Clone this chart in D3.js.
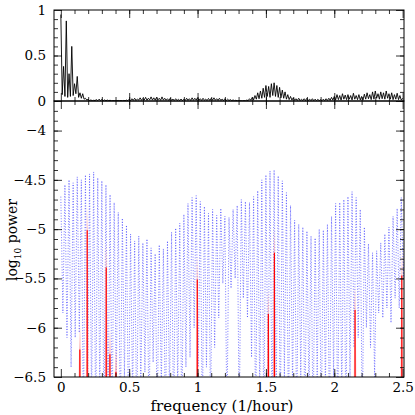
<!DOCTYPE html>
<html>
<head>
<meta charset="utf-8">
<script src="https://d3js.org/d3.v7.min.js"></script>
<style>
  html, body { margin: 0; padding: 0; background: #fff; }
  svg { display: block; font-family: "DejaVu Serif", serif; }
</style>
</head>
<body>
<div id="chart"></div>
<script>
/* ---- Data ---- */
// top panel: normalised window power, sampled every 0.01 /hour from 0 to 2.5
var windowStep = 0.01;
var windowPower = [
  0.95, 0.07, 0.38, 0.05, 0.88, 0.04, 0.30, 0.05, 0.60, 0.06,
  0.19, 0.08, 0.27, 0.04, 0.09, 0.03, 0.08, 0.02, 0.03, 0.01,
  0.02, 0.004, 0.012, 0.003, 0.008, 0.005, 0.015, 0.004, 0.02, 0.006,
  0.018, 0.004, 0.012, 0.003, 0.01, 0.004, 0.008, 0.003, 0.005, 0.003,
  0.004, 0.002, 0.006, 0.003, 0.005, 0.002, 0.006, 0.003, 0.01, 0.004,
  0.02, 0.005, 0.025, 0.008, 0.03, 0.006, 0.022, 0.01, 0.035, 0.008,
  0.028, 0.01, 0.04, 0.008, 0.03, 0.012, 0.045, 0.01, 0.035, 0.008,
  0.04, 0.012, 0.03, 0.008, 0.045, 0.01, 0.03, 0.009, 0.025, 0.006,
  0.03, 0.008, 0.02, 0.006, 0.025, 0.005, 0.018, 0.006, 0.022, 0.005,
  0.02, 0.006, 0.03, 0.007, 0.025, 0.006, 0.035, 0.008, 0.03, 0.01,
  0.035, 0.008, 0.025, 0.006, 0.03, 0.008, 0.02, 0.005, 0.028, 0.007,
  0.03, 0.009, 0.035, 0.008, 0.025, 0.006, 0.03, 0.007, 0.02, 0.005,
  0.025, 0.006, 0.02, 0.005, 0.015, 0.004, 0.012, 0.003, 0.008, 0.002,
  0.004, 0.001, 0.003, 0.001, 0.004, 0.002, 0.01, 0.004, 0.025, 0.008,
  0.04, 0.012, 0.06, 0.02, 0.09, 0.025, 0.11, 0.03, 0.14, 0.04,
  0.17, 0.05, 0.16, 0.04, 0.19, 0.06, 0.2, 0.05, 0.17, 0.04,
  0.15, 0.035, 0.12, 0.03, 0.1, 0.02, 0.07, 0.015, 0.05, 0.01,
  0.035, 0.008, 0.025, 0.006, 0.03, 0.005, 0.02, 0.006, 0.025, 0.005,
  0.03, 0.006, 0.02, 0.005, 0.025, 0.004, 0.02, 0.005, 0.018, 0.004,
  0.015, 0.004, 0.02, 0.005, 0.025, 0.006, 0.03, 0.008, 0.04, 0.01,
  0.05, 0.012, 0.07, 0.015, 0.06, 0.01, 0.08, 0.02, 0.065, 0.015,
  0.07, 0.02, 0.06, 0.012, 0.085, 0.02, 0.06, 0.015, 0.07, 0.012,
  0.05, 0.01, 0.075, 0.02, 0.09, 0.025, 0.07, 0.015, 0.1, 0.02,
  0.11, 0.03, 0.08, 0.02, 0.1, 0.025, 0.09, 0.02, 0.11, 0.03,
  0.08, 0.02, 0.09, 0.015, 0.07, 0.02, 0.085, 0.015, 0.06, 0.01,
  0.03
];

// bottom panel, blue dotted: log10 power, local maxima at 0, 0.03, ... 2.52
var logPeakStep = 0.03;
var logPeaks = [
  -4.67, -4.55, -4.50, -4.53, -4.47, -4.50, -4.45, -4.44, -4.42, -4.48,
  -4.51, -4.55, -4.65, -4.73, -4.83, -4.89, -4.96, -5.05, -5.12, -5.07,
  -5.14, -5.10, -5.19, -5.25, -5.16, -5.20, -5.12, -5.03, -4.99, -4.94,
  -4.85, -4.74, -4.68, -4.66, -4.72, -4.77, -4.84, -4.80, -4.86, -4.79,
  -4.87, -4.88, -4.80, -4.76, -4.70, -4.72, -4.73, -4.67, -4.61, -4.50,
  -4.45, -4.41, -4.40, -4.46, -4.51, -4.63, -4.76, -4.91, -4.95, -4.98,
  -5.02, -5.07, -5.09, -5.00, -5.01, -4.95, -4.87, -4.74, -4.73, -4.70,
  -4.67, -4.62, -4.68, -4.80, -4.98, -5.15, -5.24, -5.22, -5.14, -5.05,
  -4.98, -4.87, -4.79, -4.68, -4.66
];
// minima between the maxima, at 0.015, 0.045, ... 2.505 (below -6.5 is clipped)
var logTroughs = [
  -5.85, -6.10, -6.40, -6.10, -6.05, -7.00, -7.00, -6.80, -7.00, -6.70,
  -7.00, -6.90, -7.00, -6.60, -7.00, -6.50, -7.00, -6.70, -7.00, -6.60,
  -6.45, -7.00, -6.35, -7.00, -6.60, -7.00, -6.70, -7.00, -6.60, -7.00,
  -6.40, -6.30, -6.00, -6.40, -7.00, -6.40, -6.90, -6.20, -5.90, -5.55,
  -7.00, -5.60, -5.50, -7.00, -5.70, -5.90, -6.30, -7.00, -6.70, -7.00,
  -6.60, -7.00, -6.80, -7.00, -6.50, -7.00, -6.60, -7.00, -6.50, -7.00,
  -6.70, -7.00, -6.50, -7.00, -6.60, -7.00, -6.50, -7.00, -6.70, -7.00,
  -6.50, -6.20, -6.10, -7.00, -6.00, -6.20, -6.50, -5.85, -5.90, -5.80,
  -5.95, -5.70, -5.80, -5.50
];

// bottom panel, red spikes
var lineFreq = [0.139, 0.193, 0.332, 0.359, 0.403, 0.998, 1.518, 1.562, 2.152, 2.494];
var lineTop = [-6.22, -5.01, -5.39, -6.27, -6.45, -5.51, -5.86, -5.24, -5.82, -5.47];

// axes
var xMajor = [0, 0.5, 1, 1.5, 2, 2.5];
var topMajor = [0, 0.5, 1];
var botMajor = [-6.5, -6, -5.5, -5, -4.5, -4];

/* ---- Layout ---- */
var W = 415, H = 415;
var L = 54, R = 404, T = 10, MID = 101, B = 377;

var svg = d3.select("#chart").append("svg").attr("width", W).attr("height", H);

var x = d3.scaleLinear().domain([-0.05, 2.51]).range([L, R]);
var yTop = d3.scaleLinear().domain([0, 1]).range([MID, T]);
var yBot = d3.scaleLinear().domain([-6.5, -3.7]).range([B, MID]);

var defs = svg.append("defs");
defs.append("clipPath").attr("id", "clipTop")
  .append("rect").attr("x", L).attr("y", T).attr("width", R - L).attr("height", MID - T);
defs.append("clipPath").attr("id", "clipBot")
  .append("rect").attr("x", L).attr("y", MID).attr("width", R - L).attr("height", B - MID);

/* ---- Top panel ---- */
var topLine = d3.line()
  .x(function (d, i) { return x(i * windowStep); })
  .y(function (d) { return yTop(d); });

svg.append("path")
  .attr("clip-path", "url(#clipTop)")
  .attr("d", topLine(windowPower))
  .attr("fill", "none")
  .attr("stroke", "#000")
  .attr("stroke-width", 0.9);

/* ---- Bottom panel ---- */
var bluePts = [];
logPeaks.forEach(function (v, i) {
  bluePts.push([i * logPeakStep, v]);
  if (i < logTroughs.length) bluePts.push([i * logPeakStep + logPeakStep / 2, logTroughs[i]]);
});

var botLine = d3.line()
  .x(function (d) { return x(d[0]); })
  .y(function (d) { return yBot(d[1]); });

svg.append("path")
  .attr("clip-path", "url(#clipBot)")
  .attr("d", botLine(bluePts))
  .attr("fill", "none")
  .attr("stroke", "#4a4aff")
  .attr("stroke-width", 0.75)
  .attr("stroke-dasharray", "1,1.7");

// red spikes: light narrow peak plus a solid core line
var spikes = svg.append("g").attr("clip-path", "url(#clipBot)");
lineFreq.forEach(function (f, i) {
  var top = lineTop[i];
  spikes.append("path")
    .attr("d", botLine([[f - 0.01, -6.6], [f - 0.003, top + 0.25], [f, top], [f + 0.003, top + 0.25], [f + 0.01, -6.6]]))
    .attr("fill", "#ffa0a0")
    .attr("stroke", "none")
    .attr("opacity", 0.7);
  spikes.append("line")
    .attr("x1", x(f)).attr("x2", x(f))
    .attr("y1", yBot(-6.5)).attr("y2", yBot(top))
    .attr("stroke", "#ff0000")
    .attr("stroke-width", 1.2);
});

/* ---- Axes ---- */
var fmt = d3.format("~g");
var none = function () { return ""; };

function addAxis(axisFn, scale, vals, size, labelFmt, pad, tx, ty) {
  var a = axisFn(scale).tickValues(vals).tickSize(size).tickSizeOuter(0)
    .tickPadding(pad).tickFormat(labelFmt || none);
  var g = svg.append("g").attr("transform", "translate(" + tx + "," + ty + ")").call(a);
  g.select(".domain").remove();
  g.selectAll("line").attr("stroke", "#000").attr("stroke-width", 0.8);
  g.selectAll("text").attr("fill", "#000").style("font-size", "13.5px")
    .style("font-family", '"DejaVu Serif", serif');
  return g;
}

var xMinor = d3.range(1, 25).map(function (d) { return d / 10; });
var topMinor = d3.range(1, 10).map(function (d) { return d / 10; });
var botMinor = d3.range(-64, -36).map(function (d) { return d / 10; });

// x ticks on every horizontal edge, labels only under the bottom panel
[[d3.axisTop, T], [d3.axisBottom, MID], [d3.axisTop, MID], [d3.axisBottom, B]]
  .forEach(function (s) {
    var isLabelled = s[1] === B;
    addAxis(s[0], x, xMajor, -8, isLabelled ? fmt : null, 5, 0, s[1]);
    addAxis(s[0], x, xMinor, -4, null, 0, 0, s[1]);
  });

addAxis(d3.axisLeft, yTop, topMajor, -8, fmt, 8, L, 0);
addAxis(d3.axisLeft, yTop, topMinor, -4, null, 0, L, 0);
addAxis(d3.axisRight, yTop, topMajor, -8, null, 0, R, 0);
addAxis(d3.axisRight, yTop, topMinor, -4, null, 0, R, 0);

addAxis(d3.axisLeft, yBot, botMajor, -8, fmt, 8, L, 0);
addAxis(d3.axisLeft, yBot, botMinor, -4, null, 0, L, 0);
addAxis(d3.axisRight, yBot, botMajor, -8, null, 0, R, 0);
addAxis(d3.axisRight, yBot, botMinor, -4, null, 0, R, 0);

// frames
svg.append("rect").attr("x", L).attr("y", T).attr("width", R - L).attr("height", MID - T)
  .attr("fill", "none").attr("stroke", "#000").attr("stroke-width", 1);
svg.append("rect").attr("x", L).attr("y", MID).attr("width", R - L).attr("height", B - MID)
  .attr("fill", "none").attr("stroke", "#000").attr("stroke-width", 1);

/* ---- Labels ---- */
svg.append("text")
  .attr("x", 222).attr("y", 411)
  .attr("text-anchor", "middle")
  .style("font-size", "15px")
  .text("frequency (1/hour)");

var yl = svg.append("text")
  .attr("transform", "translate(17,240) rotate(-90)")
  .attr("text-anchor", "middle")
  .style("font-size", "14px");
yl.append("tspan").text("log");
yl.append("tspan").attr("dy", 4).style("font-size", "9px").text("10");
yl.append("tspan").attr("dy", -4).text(" power");
</script>
</body>
</html>
